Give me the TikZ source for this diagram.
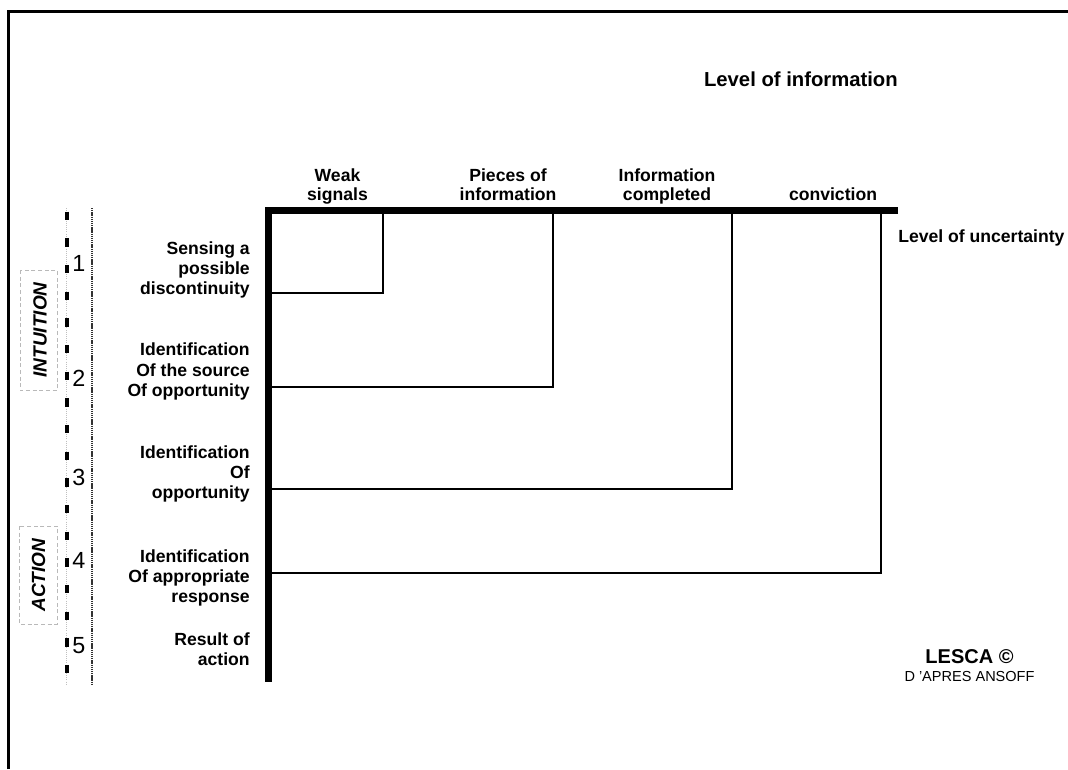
\documentclass[tikz,border=0pt]{standalone}
\usepackage{fontspec}
\setmainfont{Liberation Sans}

\begin{document}
\begin{tikzpicture}[x=0.75pt,y=-0.75pt,
  lbl/.style={font=\fontsize{13.2}{15.3}\selectfont\bfseries,inner sep=0pt},
  rowlbl/.style={lbl,align=right,anchor=east},
  collbl/.style={lbl,font=\fontsize{13.2}{14.3}\selectfont\bfseries,align=center,anchor=south,text depth=0pt},
  num/.style={font=\fontsize{17.5}{20}\selectfont,inner sep=0pt,anchor=base west},
  phase/.style={font=\fontsize{14.3}{16}\selectfont\bfseries\itshape,rotate=90,inner sep=0pt},
  phasebox/.style={draw=gray!55,densely dashed,line width=0.5pt},
  branch/.style={line width=1.3pt}]
  \useasboundingbox (0,0) rectangle (1068,769);

  % frame, top and left only
  \draw[line width=2.5pt,line join=miter] (8.3,769) -- (8.3,11.7) -- (1068,11.7);

  % axes
  \coordinate (O) at (268.5,210.3);
  \coordinate (xend) at (898,210.3);
  \coordinate (yend) at (268.5,682);
  \draw[line width=5.3pt,line join=miter] (xend) -- (O) -- (yend);

  \node[font=\fontsize{15.2}{18}\selectfont\bfseries,anchor=base east,inner sep=0pt] (info) at (898,86.7) {Level of information};
  \node[lbl,anchor=base west] (unc) at (898,242) {Level of uncertainty};

  % column heads
  \node[collbl] (weak) at (337.5,201) {Weak\\signals};
  \node[collbl] (pieces) at (508,201) {Pieces of\\information};
  \node[collbl] (compl) at (667,201) {Information\\completed};
  \node[collbl] (conv) at (833,201) {conviction};

  % stages
  \node[rowlbl] (sense) at (250,270) {Sensing a\\possible\\discontinuity};
  \node[rowlbl] (source) at (250,371.5) {Identification\\Of the source\\Of opportunity};
  \node[rowlbl] (opp) at (250,474) {Identification\\Of\hspace*{0.28em}\\opportunity};
  \node[rowlbl] (resp) at (250,578) {Identification\\Of appropriate\\response};
  \node[rowlbl] (result) at (250,649) {Result of\\action};

  % branches
  \coordinate (s1) at (272,292.7); \coordinate (t1) at (383,214);
  \coordinate (s2) at (272,387);   \coordinate (t2) at (553,214);
  \coordinate (s3) at (272,489);   \coordinate (t3) at (732,214);
  \coordinate (s4) at (272,573);   \coordinate (t4) at (881,214);
  \foreach \i in {1,...,4}
    \draw[branch] (s\i) -| (t\i);

  % scale on the left
  \draw[gray!50,line width=0.6pt,densely dotted] (66,208) -- (66,685);
  \draw[line width=2.5pt,dash pattern=on 6.2pt off 13.8pt] (67,211.7) -- (67,685);
  \draw[gray!40!black,line width=0.9pt,dash pattern=on 1pt off 0.6pt] (92,208) -- (92,684);

  \foreach \n/\y in {1/271.7,2/386.7,3/485,4/568.3,5/653.3}
    \node[num] (n\n) at (72,\y) {\n};

  \draw[phasebox] (20,270) rectangle (57,390.7);
  \node[phase] (intu) at (40,330) {INTUITION};
  \draw[phasebox] (19,526) rectangle (57,624);
  \node[phase] (act) at (38.5,575) {ACTION};

  \node[font=\fontsize{15}{18}\selectfont\bfseries,anchor=base,inner sep=0pt] (lesca) at (969.5,663.3) {LESCA ©};
  \node[font=\fontsize{10.9}{13}\selectfont,anchor=base,inner sep=0pt] (ansoff) at (969.5,681) {D 'APRES ANSOFF};
\end{tikzpicture}
\end{document}
